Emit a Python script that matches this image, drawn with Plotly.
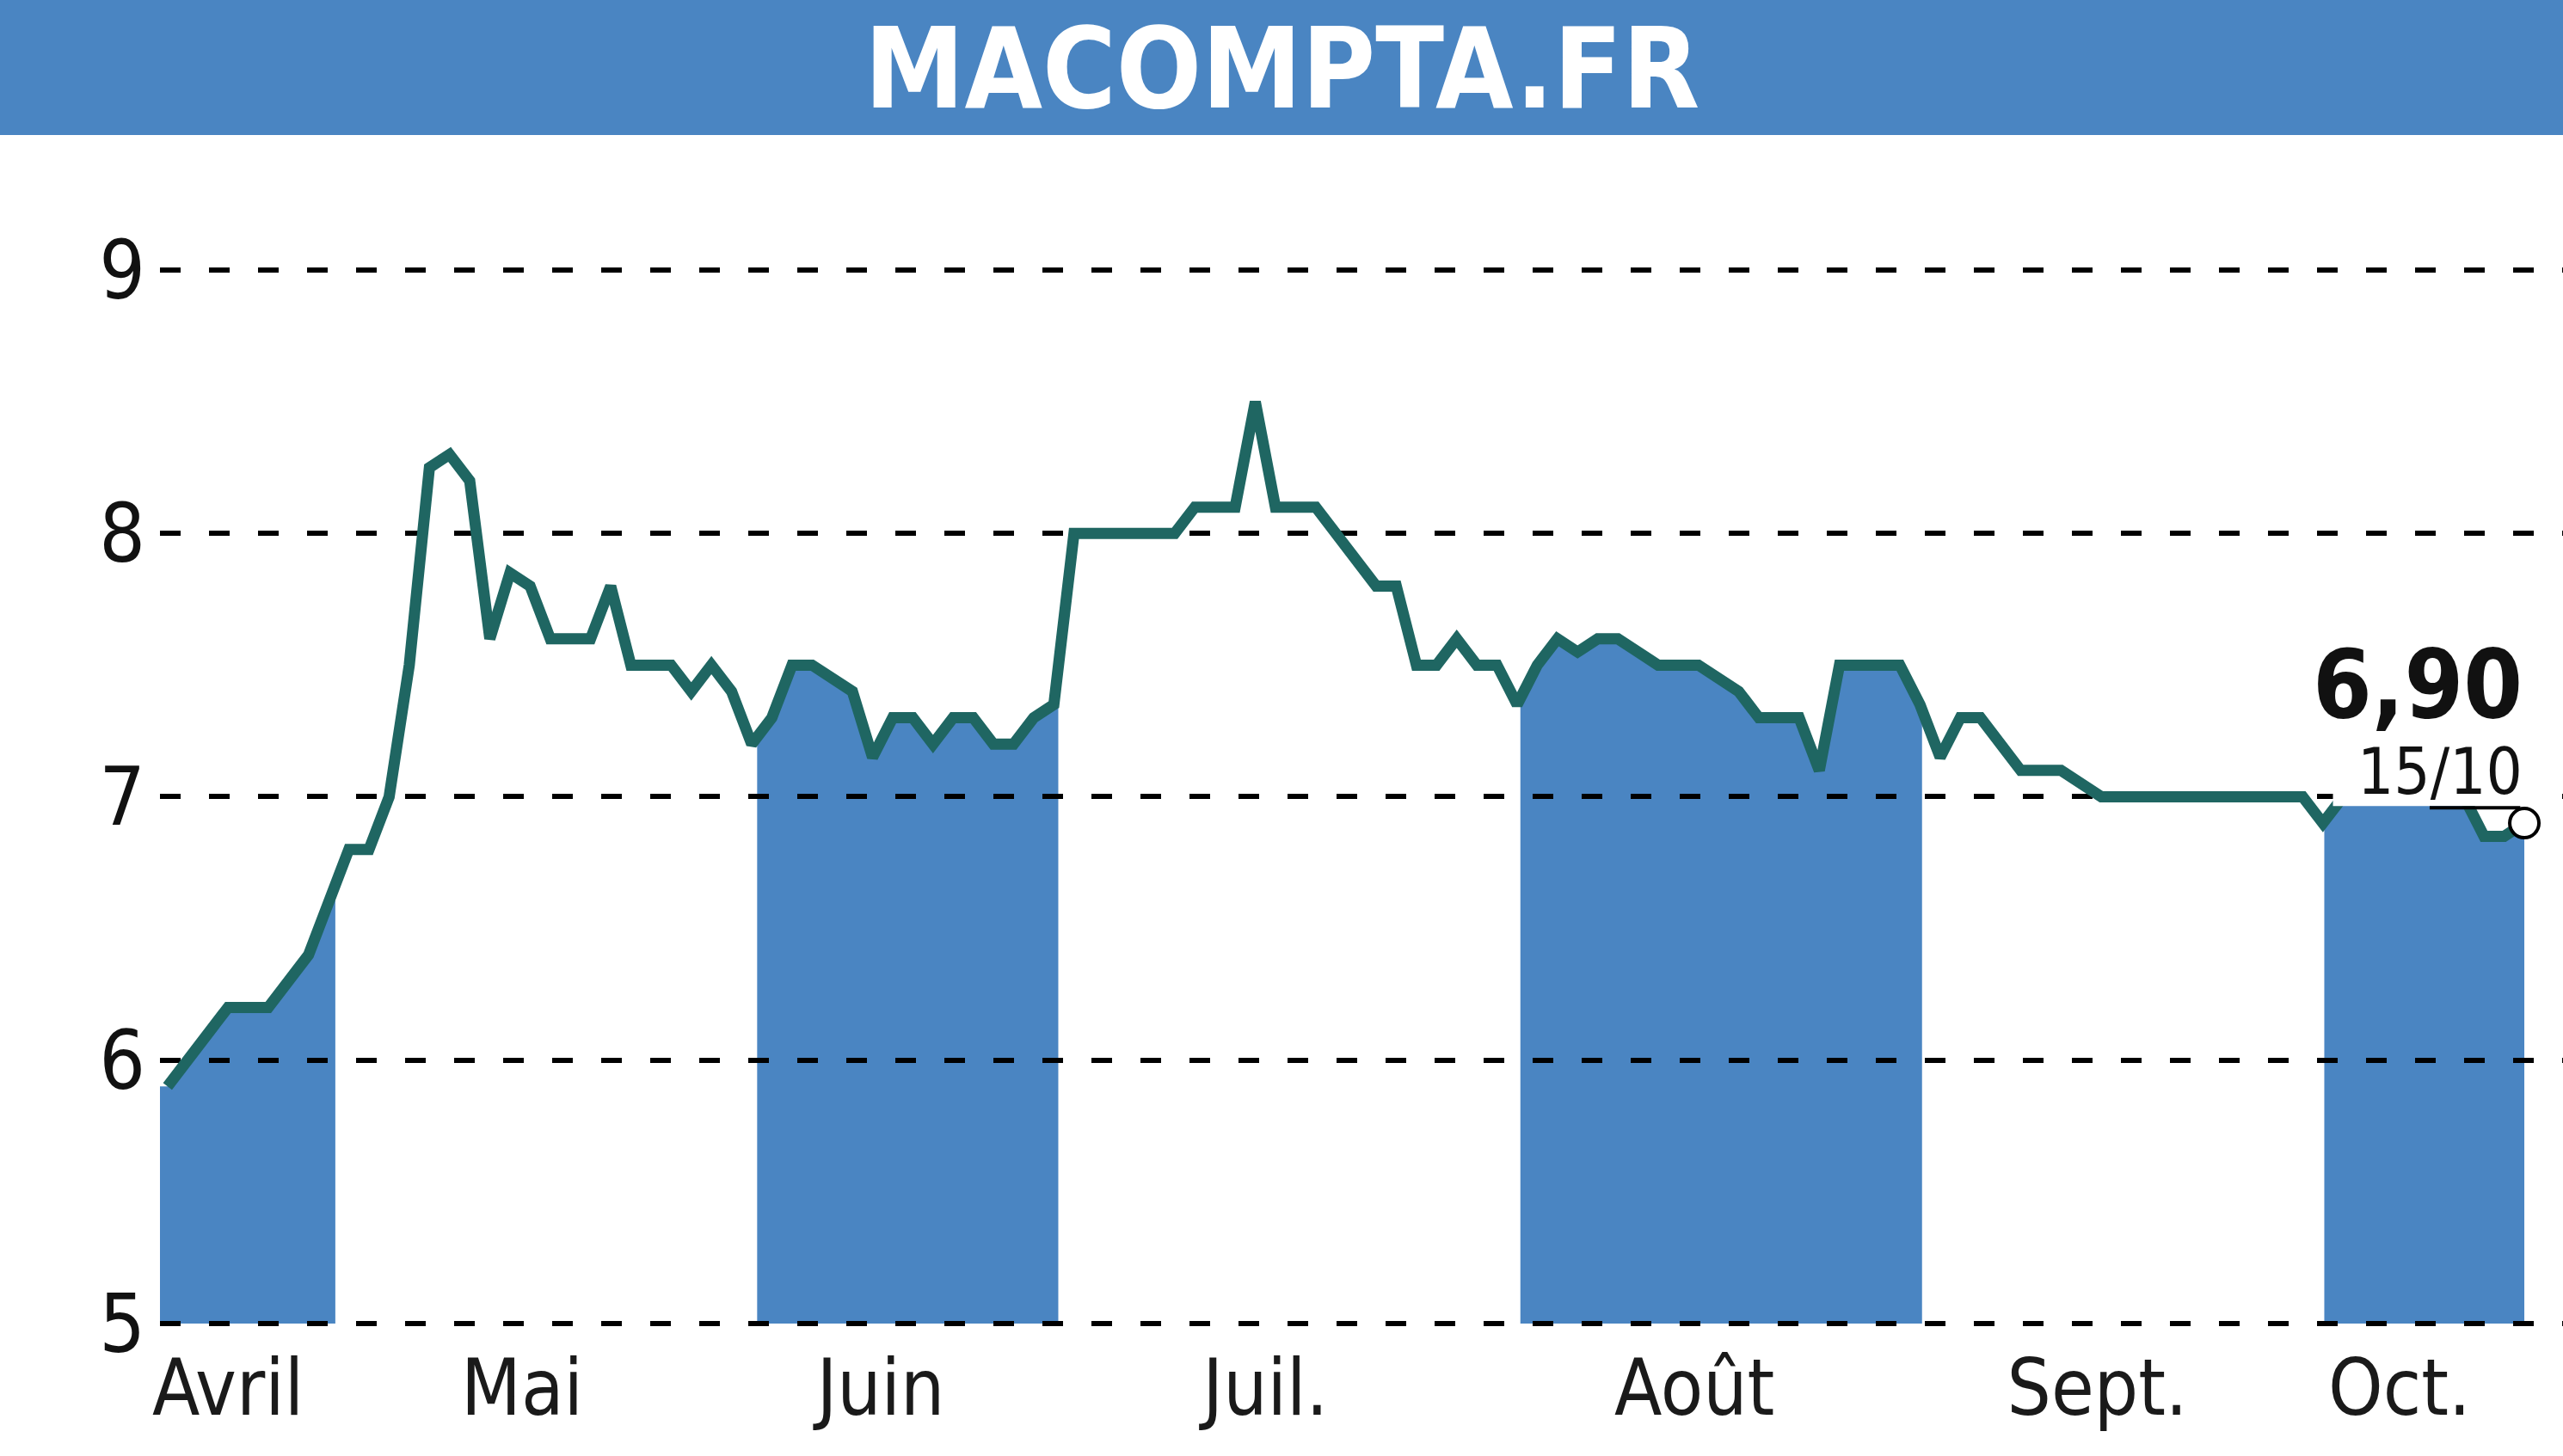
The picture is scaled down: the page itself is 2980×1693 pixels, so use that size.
import numpy as np
import plotly.graph_objects as go

# ---- data (session index along the x axis, price in EUR) ----
session = [0, 3, 5, 7, 9, 10, 11, 12, 13, 14, 15, 16, 17, 18, 19, 21, 22, 23, 25, 26,
           27, 28, 29, 30, 31, 32, 34, 35, 36, 37, 38, 39, 40, 41, 42, 43, 44, 45, 50, 51,
           53, 54, 55, 57, 60, 61, 62, 63, 64, 65, 66, 67, 68, 69, 70, 71, 72, 74, 76, 78,
           79, 81, 82, 83, 86, 87, 88, 89, 90, 92, 94, 96, 106, 107, 108, 114, 115, 116, 117]
price = [5.9, 6.2, 6.2, 6.4, 6.8, 6.8, 7.0, 7.5, 8.25, 8.3, 8.2, 7.6, 7.85, 7.8, 7.6, 7.6, 7.8, 7.5, 7.5, 7.4,
         7.5, 7.4, 7.2, 7.3, 7.5, 7.5, 7.4, 7.15, 7.3, 7.3, 7.2, 7.3, 7.3, 7.2, 7.2, 7.3, 7.35, 8.0, 8.0, 8.1,
         8.1, 8.5, 8.1, 8.1, 7.8, 7.8, 7.5, 7.5, 7.6, 7.5, 7.5, 7.35, 7.5, 7.6, 7.55, 7.6, 7.6, 7.5, 7.5, 7.4,
         7.3, 7.3, 7.1, 7.5, 7.5, 7.35, 7.15, 7.3, 7.3, 7.1, 7.1, 7.0, 7.0, 6.9, 7.0, 7.0, 6.85, 6.85, 6.9]
assert len(session) == len(price)

months = ["Avril", "Mai", "Juin", "Juil.", "Août", "Sept.", "Oct."]
month_start = [-0.38, 8.33, 29.27, 44.22, 67.16, 87.1, 107.07]
month_label_pos = [3.0, 17.6, 35.4, 54.5, 75.8, 95.8, 110.8]
shaded_months = ["Avril", "Juin", "Août", "Oct."]

y_ticks = [5, 6, 7, 8, 9]
last_label_value = "6,90"
last_label_date = "15/10"
title_text = "MACOMPTA.FR"

BLUE = "#4a85c2"
LINE = "#1f6662"
FONT = "DejaVu Sans Condensed, Liberation Sans Narrow, DejaVu Sans, sans-serif"

W, H = 2980, 1693
ML, MR, MT, MB = 186, 0, 157, 148
x_range = [-0.3757, 118.92]
y_range = [4.980, 9.513]

xs = np.array(session, dtype=float)
ys = np.array(price, dtype=float)

fig = go.Figure()

# month bands filled under the price line (drawn below the grid)
shapes = []
for i, m in enumerate(months):
    if m not in shaded_months:
        continue
    a = month_start[i]
    b = month_start[i + 1] if i + 1 < len(months) else xs[-1]
    inner = xs[(xs > a) & (xs < b)]
    px = [a] + list(inner) + [b]
    py = list(np.interp(px, xs, ys))
    path = f"M {a},{y_ticks[0]} " + " ".join(f"L {x},{y}" for x, y in zip(px, py)) + f" L {b},{y_ticks[0]} Z"
    shapes.append(dict(type="path", path=path, xref="x", yref="y", fillcolor=BLUE,
                       line=dict(width=0), layer="below"))

fig.add_trace(go.Scatter(x=session, y=price, mode="lines",
                         line=dict(color=LINE, width=13), hoverinfo="skip", showlegend=False))
fig.add_trace(go.Scatter(x=[session[-1]], y=[price[-1]], mode="markers",
                         marker=dict(size=34, color="white", line=dict(color="black", width=4)),
                         hoverinfo="skip", showlegend=False))

# white label box around the date label, and its underline
shapes.append(dict(type="rect", xref="x", yref="y", x0=107.5, x1=117.9, y0=6.965, y1=7.24,
                   fillcolor="white", line=dict(width=0), layer="above"))
shapes.append(dict(type="line", xref="x", yref="y", x0=112.3, x1=116.8, y0=6.958, y1=6.958,
                   line=dict(color="black", width=4), layer="above"))
# title bar
shapes.append(dict(type="rect", xref="paper", yref="paper", x0=-0.1, x1=1.1, y0=1.0, y1=1.2,
                   fillcolor=BLUE, line=dict(width=0), layer="above"))

annotations = [
    dict(text=f"<b>{title_text}</b>", xref="paper", yref="paper",
         x=(W / 2 - ML) / (W - ML - MR), y=(H - MB - 80) / (H - MT - MB),
         xanchor="center", yanchor="middle", showarrow=False,
         font=dict(family=FONT, size=130, color="white")),
    dict(text=f"<b>{last_label_value}</b>", xref="x", yref="y", x=session[-1], y=7.21,
         xanchor="right", yanchor="bottom", showarrow=False,
         font=dict(family=FONT, size=110, color="#111111")),
    dict(text=last_label_date, xref="x", yref="y", x=session[-1], y=6.95,
         xanchor="right", yanchor="bottom", showarrow=False,
         font=dict(family=FONT, size=74, color="#111111")),
]

fig.update_layout(
    width=W, height=H,
    margin=dict(l=ML, r=MR, t=MT, b=MB, pad=0),
    paper_bgcolor="white", plot_bgcolor="white",
    shapes=shapes, annotations=annotations,
    showlegend=False,
    xaxis=dict(range=x_range, tickmode="array", tickvals=month_label_pos, ticktext=months,
               showgrid=False, zeroline=False, showline=False, ticks="",
               tickfont=dict(family=FONT, size=90, color="#1a1a1a"),
               ticklabelstandoff=9, fixedrange=True),
    yaxis=dict(range=y_range, tickmode="array", tickvals=y_ticks, ticktext=[str(v) for v in y_ticks],
               showgrid=True, gridcolor="black", gridwidth=6, griddash="24px,33px",
               zeroline=False, showline=False, ticks="",
               tickfont=dict(family=FONT, size=94, color="#111111"),
               ticklabelstandoff=16, fixedrange=True),
)

fig.write_html("out.html", config={"displayModeBar": False},
               post_script="document.body.style.margin='0';")
